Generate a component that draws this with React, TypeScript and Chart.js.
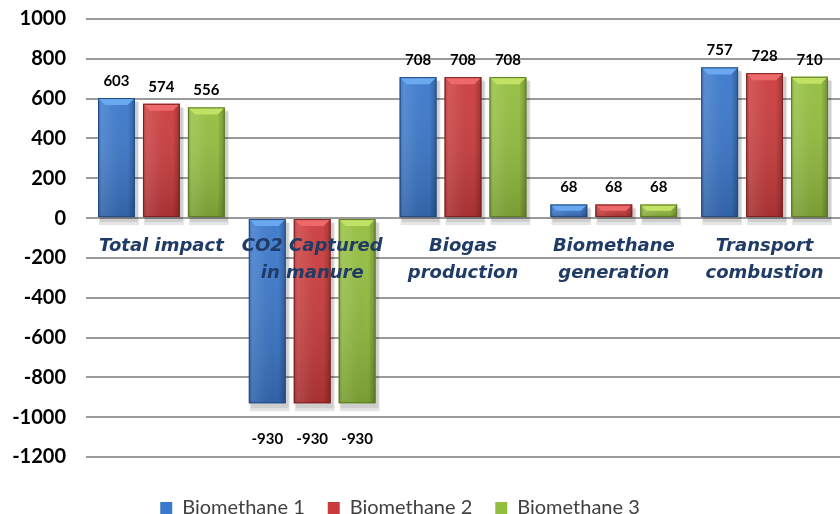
import { useEffect, useRef } from "react";
import { Chart, registerables } from "chart.js";

Chart.register(...registerables);

// Stage categories (each line drawn separately inside the plot)
const categoryLines: string[][] = [
  ["Total impact"],
  ["CO2 Captured", "in manure"],
  ["Biogas", "production"],
  ["Biomethane", "generation"],
  ["Transport", "combustion"],
];
const categories = categoryLines.map((l) => l.join(" "));

const seriesNames = ["Biomethane 1", "Biomethane 2", "Biomethane 3"];
const biomethane1 = [603, -930, 708, 68, 757];
const biomethane2 = [574, -930, 708, 68, 728];
const biomethane3 = [556, -930, 708, 68, 710];

const yMin = -1200;
const yMax = 1000;
const yStep = 200;

const FONT = "Lato, 'Open Sans', sans-serif";
const CAT_FONT = "'DejaVu Sans', Lato, sans-serif";

const palette = [
  { base: "#3a78cc", light: "#6aa8f0", dark: "#1f4a86" },
  { base: "#cc3b3c", light: "#ee6a6a", dark: "#7e1f21" },
  { base: "#94bf3e", light: "#c2e266", dark: "#5a7a20" },
];

// Gives each bar a bevelled, cylinder-like finish
const bevelPlugin = {
  id: "bevel",
  beforeDraw(chart: any) {
    // place the legend row lower and slightly left
    const lg = chart.legend;
    if (lg) {
      lg.top += 18;
      lg.bottom += 18;
      lg.left -= 20;
      lg.right -= 20;
    }
  },
  beforeDatasetsDraw(chart: any) {
    const ctx = chart.ctx;
    ctx.save();
    chart.data.datasets.forEach((_: any, di: number) => {
      const meta = chart.getDatasetMeta(di);
      meta.data.forEach((el: any) => {
        const w = el.width;
        const left = el.x - w / 2;
        const top = Math.min(el.y, el.base);
        const h = Math.abs(el.y - el.base);
        ctx.fillStyle = "rgba(0,0,0,0.10)";
        ctx.fillRect(left + 1, top + 4, w + 3, h + 4);
        ctx.fillStyle = "rgba(0,0,0,0.10)";
        ctx.fillRect(left + 2, top + 3, w + 1, h + 2);
      });
    });
    ctx.restore();
  },
  afterDatasetsDraw(chart: any) {
    const ctx = chart.ctx;
    ctx.save();
    chart.data.datasets.forEach((_: any, di: number) => {
      const meta = chart.getDatasetMeta(di);
      const p = palette[di];
      meta.data.forEach((el: any) => {
        const w = el.width;
        const left = el.x - w / 2;
        const right = el.x + w / 2;
        const top = Math.min(el.y, el.base);
        const bottom = Math.max(el.y, el.base);
        const h = bottom - top;
        // darken toward the bottom
        const gv = ctx.createLinearGradient(0, top, 0, bottom);
        gv.addColorStop(0, "rgba(255,255,255,0.05)");
        gv.addColorStop(1, "rgba(0,0,0,0.18)");
        ctx.fillStyle = gv;
        ctx.fillRect(left, top, w, h);
        // side shading
        const g = ctx.createLinearGradient(left, 0, right, 0);
        g.addColorStop(0, "rgba(0,0,0,0.15)");
        g.addColorStop(0.1, "rgba(255,255,255,0.10)");
        g.addColorStop(0.3, "rgba(255,255,255,0.06)");
        g.addColorStop(0.8, "rgba(0,0,0,0.0)");
        g.addColorStop(1, "rgba(0,0,0,0.25)");
        ctx.fillStyle = g;
        ctx.fillRect(left, top, w, h);
        const b = Math.min(7, h / 2);
        // top bevel
        ctx.fillStyle = p.light;
        ctx.beginPath();
        ctx.moveTo(left, top);
        ctx.lineTo(right, top);
        ctx.lineTo(right - b, top + b);
        ctx.lineTo(left + b, top + b);
        ctx.closePath();
        ctx.fill();
        ctx.strokeStyle = p.dark;
        ctx.lineWidth = 1;
        ctx.strokeRect(left + 0.5, top + 0.5, w - 1, h - 1);
      });
    });
    ctx.restore();
  },
};

// Value labels and in-plot category names
const labelPlugin = {
  id: "labels",
  afterDraw(chart: any) {
    const ctx = chart.ctx;
    const yScale = chart.scales.y;
    const xScale = chart.scales.x;
    ctx.save();
    ctx.textAlign = "center";
    ctx.textBaseline = "middle";
    ctx.fillStyle = "#000000";
    ctx.font = `bold 15px ${FONT}`;
    chart.data.datasets.forEach((ds: any, di: number) => {
      const meta = chart.getDatasetMeta(di);
      meta.data.forEach((el: any, i: number) => {
        const v = ds.data[i];
        const y = v >= 0 ? el.y - 17 : el.y + 36;
        ctx.fillText(String(v), el.x, y);
      });
    });
    const zero = yScale.getPixelForValue(0);
    ctx.fillStyle = "#1f3b66";
    ctx.font = `italic bold 18px ${CAT_FONT}`;
    categoryLines.forEach((lines, i) => {
      const x = xScale.getPixelForValue(i);
      lines.forEach((line, li) => {
        ctx.fillText(line, x, zero + 28 + li * 27);
      });
    });
    ctx.restore();
  },
};

export default function App() {
  const canvasRef = useRef<HTMLCanvasElement | null>(null);

  useEffect(() => {
    document.body.style.margin = "0";
    const canvas = canvasRef.current;
    if (!canvas) return;
    const seriesData = [biomethane1, biomethane2, biomethane3];
    const chart = new Chart(canvas, {
      type: "bar",
      data: {
        labels: categories,
        datasets: seriesData.map((d, i) => ({
          label: seriesNames[i],
          data: d,
          backgroundColor: palette[i].base,
          borderWidth: 0,
          categoryPercentage: 0.894,
          barPercentage: 0.82,
        })),
      },
      options: {
        responsive: false,
        animation: false,
        layout: { padding: { top: 19, right: 0, left: 0, bottom: 4 } },
        plugins: {
          tooltip: { enabled: false },
          legend: {
            position: "bottom",
            labels: {
              boxWidth: 12,
              boxHeight: 12,
              padding: 23,
              color: "#404040",
              font: { family: FONT, size: 20 },
            },
          },
        },
        scales: {
          x: {
            display: false,
          },
          y: {
            min: yMin,
            max: yMax,
            afterFit: (s: any) => {
              s.width = 86;
              s.paddingTop = 0;
              s.paddingBottom = 0;
            },
            border: { display: false },
            grid: { color: "#9a9a9a", lineWidth: 2, drawTicks: false },
            ticks: {
              stepSize: yStep,
              padding: 20,
              color: "#000000",
              font: { family: FONT, size: 20, weight: "bold" },
              callback: (v: any) => String(v),
            },
          },
        },
      },
      plugins: [bevelPlugin, labelPlugin],
    });
    return () => chart.destroy();
  }, []);

  return (
    <div style={{ width: 840, height: 514 }}>
      <canvas ref={canvasRef} width={840} height={514} />
    </div>
  );
}
